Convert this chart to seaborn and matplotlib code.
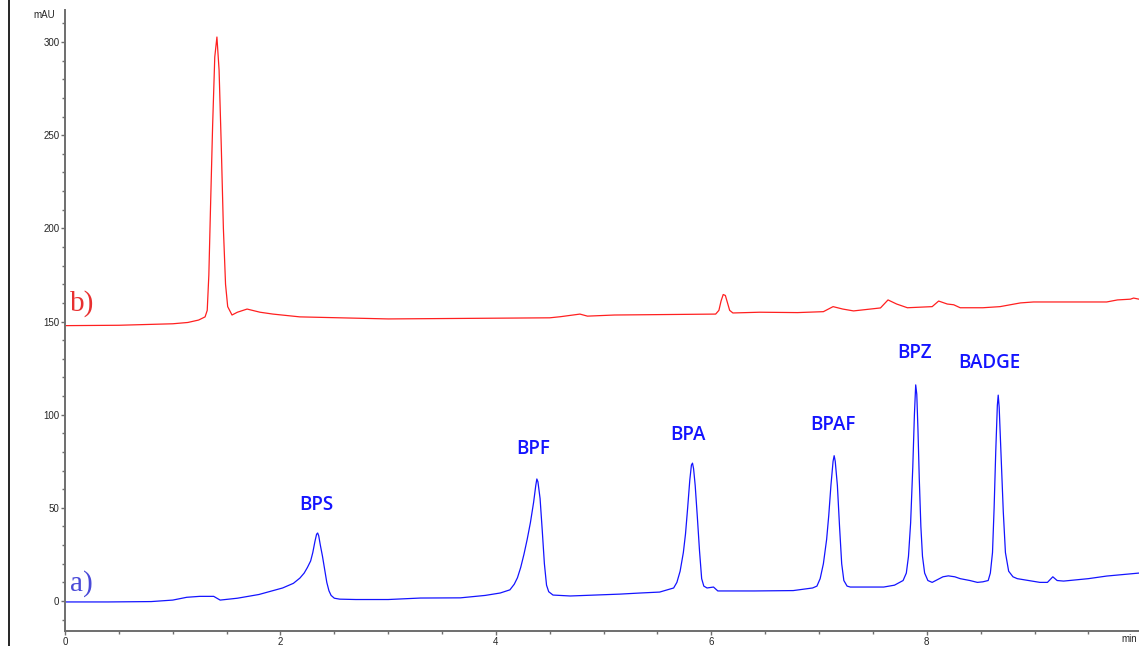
import numpy as np
import pandas as pd
import matplotlib
matplotlib.use("Agg")
import matplotlib.pyplot as plt
from matplotlib.lines import Line2D
from matplotlib.ticker import MultipleLocator
import seaborn as sns

# trace a) - standard mix (time in min, signal in mAU)
time_a = [0.00, 0.40, 0.80, 1.00, 1.13, 1.25, 1.38, 1.44, 1.60, 1.80, 2.02, 2.12,
          2.18, 2.22, 2.25, 2.28, 2.30, 2.32, 2.335, 2.345, 2.355, 2.37, 2.39, 2.41,
          2.43, 2.45, 2.47, 2.50, 2.55, 2.70, 3.00, 3.30,
          3.67, 3.90, 4.04, 4.13, 4.17, 4.20, 4.23, 4.26, 4.29, 4.32, 4.35, 4.37,
          4.38, 4.39, 4.41, 4.43, 4.45, 4.47, 4.49, 4.53,
          4.69, 5.15, 5.34, 5.52, 5.65, 5.68, 5.71, 5.74, 5.76, 5.78, 5.80, 5.815,
          5.825, 5.835, 5.85, 5.87, 5.89, 5.91, 5.93, 5.96,
          6.02, 6.06, 6.40, 6.76, 6.94, 6.98, 7.01, 7.04, 7.07, 7.09, 7.11, 7.13,
          7.14, 7.15, 7.17, 7.19, 7.21, 7.23, 7.26, 7.29,
          7.60, 7.70, 7.78, 7.81, 7.83, 7.85, 7.87, 7.885, 7.897, 7.907, 7.918, 7.93,
          7.945, 7.96, 7.98, 8.01, 8.05, 8.10, 8.15, 8.20, 8.26, 8.31, 8.40, 8.47,
          8.52, 8.57, 8.59, 8.61, 8.625, 8.64, 8.655, 8.663, 8.672, 8.68, 8.69, 8.71,
          8.73, 8.76, 8.80, 8.84,
          9.05, 9.12, 9.17, 9.21, 9.27, 9.50, 9.67, 9.97]
signal_a = [-0.5, -0.5, -0.3, 0.5, 2.0, 2.5, 2.5, 0.5, 1.5, 3.5, 7.0, 9.5,
            12.3, 15.0, 18.0, 21.5, 26.0, 32.0, 35.8, 36.5, 35.0, 30.0, 24.0, 17.0,
            10.0, 5.5, 3.0, 1.5, 1.0, 0.8, 0.8, 1.6,
            1.7, 3.0, 4.3, 6.0, 9.0, 12.5, 18.0, 25.0, 33.0, 42.0, 53.0, 62.0,
            65.5, 64.0, 55.0, 38.0, 20.0, 8.5, 5.0, 3.2,
            2.7, 3.7, 4.3, 4.8, 7.0, 10.0, 16.0, 26.0, 36.0, 50.0, 65.0, 73.0,
            74.0, 71.0, 62.0, 45.0, 27.0, 12.0, 8.0, 7.0,
            7.5, 5.4, 5.4, 5.6, 7.0, 8.0, 12.0, 20.0, 33.0, 46.0, 62.0, 75.0,
            78.0, 75.0, 62.0, 40.0, 20.0, 11.0, 8.0, 7.5,
            7.5, 8.5, 11.0, 15.0, 24.0, 42.0, 72.0, 100.0, 116.0, 111.0, 92.0, 66.0,
            40.0, 24.0, 15.0, 11.0, 10.0, 11.5, 13.0, 13.5, 13.0, 12.0, 11.0, 10.0,
            10.3, 11.0, 15.0, 26.0, 50.0, 80.0, 105.0, 110.5, 104.0, 92.0, 78.0, 48.0,
            26.0, 16.0, 13.0, 12.0,
            10.0, 10.0, 13.0, 11.0, 10.7, 12.0, 13.4, 15.0]

# trace b) - sample
time_b = [0.00, 0.50, 1.00, 1.14, 1.24, 1.30, 1.32, 1.335, 1.35, 1.37, 1.39, 1.41,
          1.43, 1.45, 1.47, 1.49, 1.51, 1.55, 1.60, 1.69, 1.81, 1.93, 2.18, 3.00,
          4.50, 4.60, 4.78, 4.85, 5.10,
          6.04, 6.07, 6.09, 6.11, 6.13, 6.15, 6.17, 6.20, 6.45, 6.80, 7.04, 7.13,
          7.22, 7.32, 7.57, 7.64, 7.72, 7.82, 8.05, 8.11, 8.19, 8.25, 8.31, 8.52,
          8.68, 8.87, 8.99, 9.24, 9.40, 9.67, 9.77, 9.89, 9.92, 9.97]
signal_b = [147.8, 148.0, 148.8, 149.5, 150.8, 152.5, 156.0, 175.0, 210.0, 255.0, 292.0, 302.7,
            285.0, 245.0, 200.0, 170.0, 158.0, 153.5, 155.0, 156.7, 155.0, 154.0, 152.5, 151.4,
            152.0, 152.6, 154.0, 152.9, 153.5,
            154.0, 156.0, 161.0, 164.5, 164.0, 160.0, 156.0, 154.6, 155.0, 154.8, 155.3, 158.0,
            156.7, 155.7, 157.3, 161.6, 159.4, 157.4, 158.0, 161.0, 159.4, 159.0, 157.4, 157.4,
            158.0, 160.0, 160.5, 160.5, 160.5, 160.5, 161.6, 162.0, 162.6, 162.0]

peak_names = ["BPS", "BPF", "BPA", "BPAF", "BPZ", "BADGE"]
peak_label_t = [2.33, 4.35, 5.78, 7.13, 7.89, 8.58]
peak_label_y = [51.5, 81.6, 89.0, 94.5, 133.0, 128.0]

blue = "#1414ff"
red = "#ff2020"

sns.set_style("ticks")
plt.rcParams["font.family"] = ["Liberation Sans", "DejaVu Sans"]

fig = plt.figure(figsize=(11.39, 6.46), dpi=100)
ax = fig.add_axes([0.0571, 0.0232, 0.9429, 0.9613])

df_a = pd.DataFrame({"time": time_a, "signal": signal_a})
df_b = pd.DataFrame({"time": time_b, "signal": signal_b})
sns.lineplot(data=df_a, x="time", y="signal", color=blue, lw=0.9, ax=ax, estimator=None, sort=False)
sns.lineplot(data=df_b, x="time", y="signal", color=red, lw=0.9, ax=ax, estimator=None, sort=False)

for name, t, y in zip(peak_names, peak_label_t, peak_label_y):
    ax.text(t, y, name, color=blue, fontsize=13.5, ha="center", va="center",
            family=["Open Sans", "DejaVu Sans"], fontweight="semibold")

ax.text(0.05, 9.5, "a)", color="#4a4ad8", fontsize=21, family="Liberation Serif",
        ha="left", va="center")
ax.text(0.05, 159.5, "b)", color="#e83030", fontsize=21, family="Liberation Serif",
        ha="left", va="center")

ax.set_xlim(0, 9.97)
ax.set_ylim(-16.1, 317.2)
ax.xaxis.set_major_locator(MultipleLocator(2))
ax.xaxis.set_minor_locator(MultipleLocator(0.5))
ax.yaxis.set_major_locator(MultipleLocator(50))
ax.yaxis.set_minor_locator(MultipleLocator(10))
ax.set_xlabel("")
ax.set_ylabel("")
for side in ["top", "right"]:
    ax.spines[side].set_visible(False)
for side in ["left", "bottom"]:
    ax.spines[side].set_color("#6e6e6e")
    ax.spines[side].set_linewidth(1.4)
ax.tick_params(which="major", length=3, width=1, color="#6e6e6e", labelsize=7, pad=1)
ax.tick_params(which="minor", length=2, width=1, color="#6e6e6e")

fig.text(0.048, 0.977, "mAU", fontsize=7, ha="right", va="center")
fig.text(0.9985, 0.003, "min", fontsize=7, ha="right", va="bottom")
fig.add_artist(Line2D([0.0075, 0.0075], [0, 1], color="black", lw=1.2, transform=fig.transFigure))

fig.savefig("out.png", dpi=100)
